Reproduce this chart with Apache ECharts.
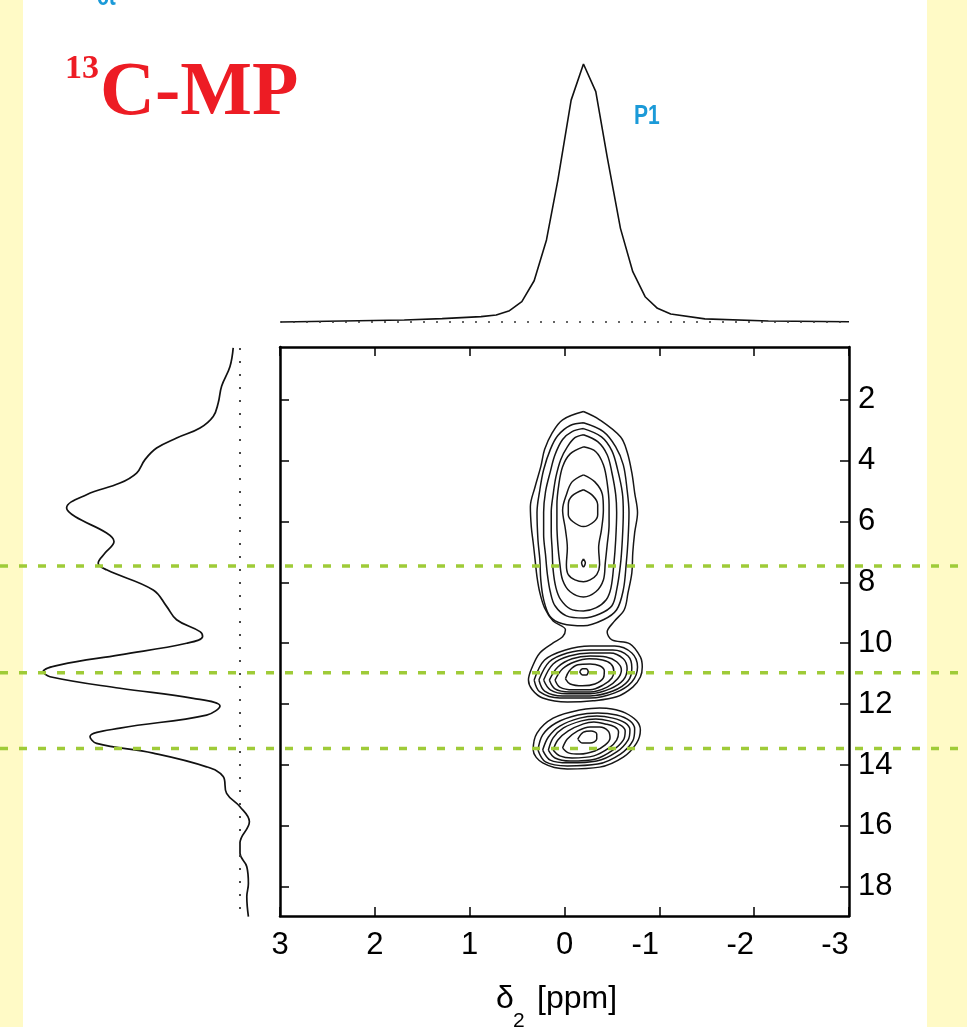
<!DOCTYPE html>
<html>
<head>
<meta charset="utf-8">
<title>13C-MP</title>
<script src="https://cdn.jsdelivr.net/npm/echarts@6/dist/echarts.min.js"></script>
<style>
  html, body { margin: 0; padding: 0; background: #fff; }
  #chart { width: 967px; height: 1027px; }
</style>
</head>
<body>
<div id="chart"></div>
<script>
// axis ranges and ticks
const f2Range = [-3, 3];          // delta2, horizontal
const f1Range = [0.27, 18.96];    // delta1, vertical
const f1Ticks = [2, 4, 6, 8, 10, 12, 14, 16, 18];
const guideShifts = [7.46, 10.97, 13.46];

// top projection: [delta2, intensity]
const topProjection = [
  [2.99, 0], [1.69, 0.8], [1.29, 1.3], [0.88, 2.1], [0.72, 2.7], [0.58, 4.4], [0.45, 7.9],
  [0.32, 16], [0.19, 31.8], [0.07, 55], [-0.07, 86], [-0.20, 100], [-0.33, 89.3],
  [-0.45, 64], [-0.59, 36.3], [-0.72, 19.5], [-0.85, 9.8], [-0.98, 5.3], [-1.12, 3.1],
  [-1.48, 1.2], [-2.15, 0.4], [-3.0, 0.1]
];

// left projection: [intensity, delta1]
const leftProjection = [
  [3.4, 0.30], [5, 0.91], [9.2, 1.56], [10.9, 2.11], [13.4, 2.55], [20, 2.93], [31.7, 3.26],
  [41.7, 3.59], [47.5, 3.97], [51.7, 4.41], [60, 4.74], [76.7, 5.12], [86.7, 5.56],
  [82.5, 5.84], [66.7, 6.38], [63, 6.66], [67.5, 7.04], [70.9, 7.37], [66.7, 7.59],
  [43.4, 8.25], [36.7, 8.79], [31.7, 9.23], [20, 9.62], [18.7, 9.78], [26.7, 10.0],
  [60, 10.38], [90, 10.71], [98.4, 10.93], [95, 11.10], [60, 11.48], [23.4, 11.81],
  [10, 12.06], [16.7, 12.36], [60, 12.79], [75, 13.07], [71.7, 13.29], [43.4, 13.61],
  [16.7, 14.06], [8.4, 14.38], [6.7, 14.93], [0, 15.37], [-4.7, 15.86], [0, 16.57],
  [0, 16.90], [-3.4, 17.34], [-4.2, 17.89], [-3.4, 18.33], [-4.2, 18.98]
];

// contour lines: [delta2, delta1]
const outerContour = [
  [-0.20, 2.39], [-0.37, 2.66], [-0.59, 3.22], [-0.66, 3.71], [-0.71, 4.40], [-0.74, 5.06],
  [-0.77, 5.71], [-0.74, 6.37], [-0.72, 7.03], [-0.71, 7.69], [-0.67, 8.34], [-0.63, 8.90],
  [-0.52, 9.30], [-0.45, 9.63], [-0.50, 9.89], [-0.69, 10.02], [-0.80, 10.45], [-0.82, 10.78],
  [-0.80, 11.11], [-0.72, 11.44], [-0.55, 11.76], [-0.30, 11.89], [-0.03, 11.93], [0.23, 11.80],
  [0.34, 11.53], [0.38, 11.21], [0.34, 10.78], [0.26, 10.32], [0.12, 9.99], [0.02, 9.79],
  [-0.01, 9.56], [0.12, 9.27], [0.21, 8.84], [0.26, 8.34], [0.29, 7.82], [0.31, 7.26],
  [0.33, 6.70], [0.35, 6.18], [0.36, 5.52], [0.31, 4.86], [0.25, 4.20], [0.21, 3.64],
  [0.13, 3.09], [0.02, 2.66]
];

const upperContours = [
  [[-0.20, 2.76], [-0.41, 3.05], [-0.54, 3.55], [-0.62, 4.14], [-0.66, 4.96], [-0.68, 5.71],
   [-0.67, 6.60], [-0.65, 7.42], [-0.62, 8.25], [-0.55, 8.90], [-0.41, 9.23], [-0.20, 9.43],
   [0.02, 9.36], [0.15, 9.13], [0.22, 8.57], [0.25, 7.92], [0.26, 7.26], [0.28, 6.60],
   [0.29, 5.71], [0.26, 4.96], [0.22, 4.30], [0.15, 3.64], [0.07, 3.18], [-0.06, 2.85]],
  [[-0.20, 2.95], [-0.39, 3.22], [-0.50, 3.68], [-0.56, 4.30], [-0.61, 5.06], [-0.62, 5.71],
   [-0.61, 6.60], [-0.59, 7.42], [-0.55, 8.25], [-0.50, 8.77], [-0.37, 9.04], [-0.20, 9.17],
   [-0.02, 9.10], [0.10, 8.77], [0.15, 8.31], [0.18, 7.75], [0.20, 7.10], [0.22, 6.44],
   [0.22, 5.71], [0.20, 5.02], [0.15, 4.37], [0.10, 3.81], [0.02, 3.31], [-0.08, 3.05]],
  [[-0.20, 3.15], [-0.35, 3.38], [-0.45, 3.81], [-0.50, 4.40], [-0.54, 5.12], [-0.55, 5.71],
   [-0.54, 6.60], [-0.52, 7.42], [-0.49, 8.18], [-0.44, 8.57], [-0.33, 8.84], [-0.20, 8.94],
   [-0.06, 8.87], [0.04, 8.57], [0.09, 8.18], [0.12, 7.59], [0.13, 6.93], [0.14, 6.34],
   [0.14, 5.71], [0.12, 5.12], [0.09, 4.53], [0.04, 3.97], [-0.03, 3.55], [-0.11, 3.25]],
  [[-0.20, 3.55], [-0.33, 3.71], [-0.41, 4.14], [-0.45, 4.73], [-0.47, 5.45], [-0.47, 6.11],
   [-0.45, 6.77], [-0.43, 7.36], [-0.41, 7.92], [-0.33, 8.31], [-0.20, 8.48], [-0.06, 8.31],
   [0.02, 7.92], [0.05, 7.36], [0.07, 6.77], [0.08, 6.11], [0.08, 5.45], [0.06, 4.79],
   [0.02, 4.20], [-0.06, 3.78]],
  [[-0.20, 4.47], [-0.32, 4.70], [-0.40, 5.12], [-0.41, 5.62], [-0.39, 6.27], [-0.36, 6.87],
   [-0.37, 7.42], [-0.34, 7.75], [-0.27, 7.92], [-0.20, 7.98], [-0.11, 7.92], [-0.04, 7.75],
   [-0.02, 7.42], [-0.03, 6.87], [-0.01, 6.27], [0.02, 5.62], [-0.02, 5.12], [-0.08, 4.70]],
  [[-0.20, 4.96], [-0.30, 5.16], [-0.35, 5.45], [-0.35, 5.78], [-0.31, 6.01], [-0.20, 6.17],
   [-0.09, 6.01], [-0.04, 5.78], [-0.04, 5.45], [-0.08, 5.16]],
  [[-0.20, 7.23], [-0.22, 7.36], [-0.20, 7.49], [-0.18, 7.36]]
];

const middleContours = [
  [[0.32, 11.21], [0.26, 11.60], [0.05, 11.80], [-0.27, 11.80], [-0.53, 11.63], [-0.71, 11.27],
   [-0.77, 10.78], [-0.71, 10.32], [-0.53, 10.09], [-0.27, 10.09], [-0.01, 10.22], [0.21, 10.55]],
  [[0.27, 11.21], [0.21, 11.57], [0.02, 11.73], [-0.27, 11.73], [-0.51, 11.57], [-0.67, 11.24],
   [-0.71, 10.81], [-0.67, 10.42], [-0.51, 10.22], [-0.27, 10.22], [-0.03, 10.32], [0.16, 10.61]],
  [[0.22, 11.21], [0.15, 11.53], [-0.02, 11.66], [-0.27, 11.66], [-0.48, 11.50], [-0.62, 11.21],
   [-0.66, 10.84], [-0.62, 10.51], [-0.48, 10.32], [-0.27, 10.32], [-0.05, 10.42], [0.12, 10.68]],
  [[0.16, 11.21], [0.10, 11.50], [-0.05, 11.60], [-0.27, 11.60], [-0.45, 11.44], [-0.56, 11.17],
   [-0.60, 10.88], [-0.55, 10.61], [-0.44, 10.45], [-0.27, 10.42], [-0.08, 10.51], [0.07, 10.78]],
  [[0.10, 11.21], [0.05, 11.44], [-0.09, 11.53], [-0.27, 11.53], [-0.41, 11.37], [-0.50, 11.14],
   [-0.52, 10.91], [-0.49, 10.68], [-0.40, 10.55], [-0.26, 10.51], [-0.11, 10.61], [0.02, 10.84]],
  [[-0.01, 11.17], [-0.06, 11.34], [-0.19, 11.40], [-0.32, 11.34], [-0.41, 11.14], [-0.42, 10.91],
   [-0.37, 10.74], [-0.27, 10.68], [-0.14, 10.71], [-0.05, 10.91]],
  [[-0.16, 10.94], [-0.19, 11.04], [-0.23, 11.04], [-0.25, 10.94], [-0.23, 10.84], [-0.19, 10.84]]
];

const lowerContours = [
  [[-0.16, 12.19], [-0.37, 12.13], [-0.50, 12.16], [-0.64, 12.29], [-0.76, 12.55], [-0.80, 12.85],
   [-0.76, 13.28], [-0.62, 13.74], [-0.37, 14.07], [-0.03, 14.13], [0.23, 13.93], [0.33, 13.51],
   [0.29, 12.95], [0.12, 12.46]],
  [[0.28, 13.51], [0.20, 13.90], [-0.03, 14.03], [-0.35, 13.97], [-0.59, 13.64], [-0.72, 13.21],
   [-0.74, 12.82], [-0.69, 12.55], [-0.55, 12.36], [-0.35, 12.29], [-0.14, 12.36], [0.09, 12.62],
   [0.23, 13.01]],
  [[0.23, 13.51], [0.15, 13.84], [-0.04, 13.93], [-0.34, 13.87], [-0.55, 13.57], [-0.67, 13.18],
   [-0.69, 12.85], [-0.64, 12.62], [-0.51, 12.46], [-0.34, 12.39], [-0.16, 12.46], [0.05, 12.72],
   [0.17, 13.08]],
  [[0.17, 13.51], [0.10, 13.77], [-0.06, 13.87], [-0.33, 13.80], [-0.51, 13.51], [-0.62, 13.18],
   [-0.64, 12.88], [-0.59, 12.69], [-0.47, 12.55], [-0.33, 12.49], [-0.18, 12.55], [0.01, 12.78],
   [0.12, 13.11]],
  [[0.12, 13.51], [0.05, 13.70], [-0.08, 13.77], [-0.31, 13.70], [-0.47, 13.44], [-0.55, 13.18],
   [-0.57, 12.92], [-0.53, 12.75], [-0.43, 12.65], [-0.31, 12.59], [-0.20, 12.65], [-0.04, 12.88],
   [0.07, 13.18]],
  [[0.02, 13.44], [-0.05, 13.61], [-0.16, 13.64], [-0.32, 13.54], [-0.43, 13.34], [-0.48, 13.11],
   [-0.46, 12.88], [-0.37, 12.75], [-0.27, 12.75], [-0.14, 12.88], [-0.03, 13.15]],
  [[-0.14, 13.15], [-0.19, 13.28], [-0.27, 13.28], [-0.34, 13.15], [-0.34, 12.98], [-0.28, 12.88],
   [-0.20, 12.92]]
];

const FONT = "'Liberation Sans', Arial, Helvetica, sans-serif";
const chart = echarts.init(document.getElementById('chart'));

const hidden = { show: false };
function frameAxis(extra) {
  return Object.assign({
    type: 'value', gridIndex: 0,
    axisLine: { show: true, onZero: false, lineStyle: { color: '#000', width: 2.5 } },
    axisTick: { show: true, inside: true, length: 9, lineStyle: { color: '#000', width: 1.5 } },
    splitLine: hidden
  }, extra);
}
function hiddenAxis(extra) {
  return Object.assign({
    type: 'value', axisLine: hidden, axisTick: hidden, axisLabel: hidden, splitLine: hidden
  }, extra);
}
function closed(pts) { return pts.concat([pts[0]]); }
function contour(pts) {
  return {
    type: 'line', xAxisIndex: 0, yAxisIndex: 0, data: closed(pts),
    smooth: 0.35, symbol: 'none', silent: true, z: 3,
    lineStyle: { color: '#161616', width: 1.5 }
  };
}

const series = [];
series.push(contour(outerContour));
upperContours.concat(middleContours, lowerContours).forEach(c => series.push(contour(c)));

series.push({
  type: 'line', xAxisIndex: 1, yAxisIndex: 1, data: topProjection,
  symbol: 'none', silent: true, clip: false,
  lineStyle: { color: '#111', width: 1.6 }
});
series.push({
  type: 'line', xAxisIndex: 1, yAxisIndex: 1, data: [[f2Range[1], 0], [f2Range[0], 0]],
  symbol: 'none', silent: true, clip: false,
  lineStyle: { color: '#333', width: 1.5, type: [2, 11] }
});
series.push({
  type: 'line', xAxisIndex: 2, yAxisIndex: 2, data: leftProjection,
  smooth: 0.4, symbol: 'none', silent: true, clip: false,
  lineStyle: { color: '#111', width: 1.7 }
});
series.push({
  type: 'line', xAxisIndex: 2, yAxisIndex: 2, data: [[0, 0.3], [0, 18.75]],
  symbol: 'none', silent: true, clip: false,
  lineStyle: { color: '#333', width: 1.8, type: [2, 11] }
});
guideShifts.forEach(v => series.push({
  type: 'line', xAxisIndex: 3, yAxisIndex: 3, data: [[0, v], [1, v]],
  symbol: 'none', silent: true, clip: false, z: 10,
  lineStyle: { color: '#9fcb38', width: 3.5, type: [8, 11] }
}));

chart.setOption({
  animation: false,
  backgroundColor: '#ffffff',
  grid: [
    { left: 280, right: 118, top: 347, bottom: 111, outerBoundsMode: 'none' },
    { left: 280, right: 118, top: 64, bottom: 705, outerBoundsMode: 'none' },
    { left: 40, right: 707, top: 347, bottom: 111, outerBoundsMode: 'none' },
    { left: 0, right: 0, top: 347, bottom: 111, outerBoundsMode: 'none' }
  ],
  xAxis: [
    frameAxis({
      position: 'bottom', min: f2Range[0], max: f2Range[1], interval: 1, inverse: true,
      axisLabel: {
        show: true, margin: 14, color: '#000', fontSize: 31, fontFamily: FONT,
        formatter: v => v < 0 ? '{n|' + v + '}' : String(v),
        rich: { n: { fontSize: 31, fontFamily: FONT, color: '#000', padding: [0, 28, 0, 0] } }
      }
    }),
    hiddenAxis({ gridIndex: 1, min: f2Range[0], max: f2Range[1], inverse: true }),
    hiddenAxis({ gridIndex: 2, min: -10, max: 100, inverse: true }),
    hiddenAxis({ gridIndex: 3, min: 0, max: 1 }),
    frameAxis({
      position: 'top', min: f2Range[0], max: f2Range[1], interval: 1, inverse: true,
      axisLabel: hidden
    })
  ],
  yAxis: [
    frameAxis({
      position: 'right', min: f1Range[0], max: f1Range[1], inverse: true,
      axisTick: { show: true, inside: true, length: 9, customValues: f1Ticks,
        lineStyle: { color: '#000', width: 1.5 } },
      axisLabel: { show: true, margin: 9, color: '#000', fontSize: 31, fontFamily: FONT,
        customValues: f1Ticks }
    }),
    hiddenAxis({ gridIndex: 1, min: 0, max: 100 }),
    hiddenAxis({ gridIndex: 2, min: f1Range[0], max: f1Range[1], inverse: true }),
    hiddenAxis({ gridIndex: 3, min: f1Range[0], max: f1Range[1], inverse: true }),
    frameAxis({
      position: 'left', min: f1Range[0], max: f1Range[1], inverse: true,
      axisTick: { show: true, inside: true, length: 9, customValues: f1Ticks,
        lineStyle: { color: '#000', width: 1.5 } },
      axisLabel: hidden
    })
  ],
  graphic: [
    { type: 'rect', z: -10, shape: { x: 0, y: 0, width: 23, height: 1027 }, style: { fill: '#fffac6' } },
    { type: 'rect', z: -10, shape: { x: 927, y: 0, width: 40, height: 1027 }, style: { fill: '#fffac6' } },
    { type: 'text', x: 65, y: 69, style: { text: '13', font: "bold 34px 'Liberation Serif', 'Times New Roman', serif",
      fill: '#ed1c24', align: 'left', verticalAlign: 'middle' } },
    { type: 'text', x: 100, y: 94, style: { text: 'C-MP', font: "bold 76px 'Liberation Serif', 'Times New Roman', serif",
      fill: '#ed1c24', align: 'left', verticalAlign: 'middle' } },
    { type: 'text', x: 634, y: 117, scaleX: 0.78, style: { text: 'P1', font: 'bold 27px ' + FONT,
      fill: '#1b9ad8', align: 'left', verticalAlign: 'middle' } },
    { type: 'text', x: 97, y: -2, scaleX: 0.78, style: { text: 'ct', font: 'bold 27px ' + FONT,
      fill: '#1b9ad8', align: 'left', verticalAlign: 'middle' } },
    { type: 'text', x: 496, y: 999, style: { text: 'δ', font: '32px ' + FONT,
      fill: '#000', align: 'left', verticalAlign: 'middle' } },
    { type: 'text', x: 513, y: 1021, style: { text: '2', font: '21px ' + FONT,
      fill: '#000', align: 'left', verticalAlign: 'middle' } },
    { type: 'text', x: 537, y: 999, style: { text: '[ppm]', font: '32px ' + FONT,
      fill: '#000', align: 'left', verticalAlign: 'middle' } }
  ],
  series: series
});
</script>
</body>
</html>
